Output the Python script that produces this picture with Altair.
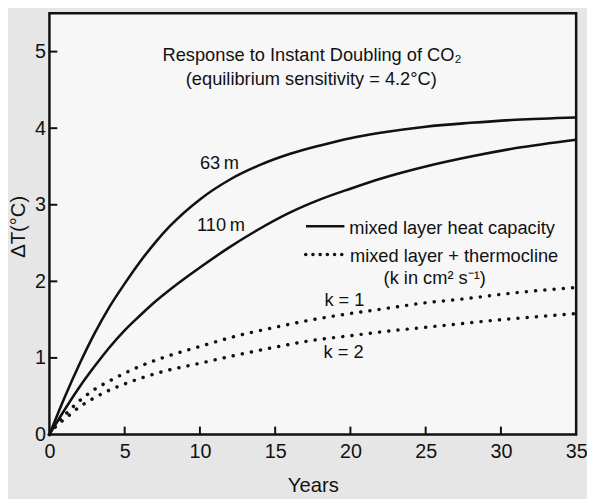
import altair as alt
import pandas as pd

# ---- data ----
years_mixed = [0, 1, 2, 3, 4, 5, 6, 7, 8, 10, 12, 14, 16, 18, 20, 22, 25, 28, 31, 35]
dT_63m = [0, 0.48, 0.92, 1.32, 1.67, 1.97, 2.25, 2.50, 2.72, 3.07, 3.33, 3.52, 3.665, 3.775, 3.87, 3.94, 4.02, 4.07, 4.11, 4.14]
dT_110m = [0, 0.32, 0.62, 0.89, 1.14, 1.36, 1.55, 1.73, 1.89, 2.18, 2.45, 2.69, 2.90, 3.07, 3.21, 3.34, 3.50, 3.63, 3.74, 3.85]

years_thermo = [0, 0.5, 1, 2, 3, 4, 5, 6, 7.5, 10, 12.5, 15, 17.5, 20, 22.5, 25, 27.5, 30, 32.5, 35]
dT_k1 = [0, 0.15, 0.25, 0.44, 0.59, 0.70, 0.80, 0.89, 1.00, 1.15, 1.29, 1.40, 1.50, 1.58, 1.65, 1.72, 1.77, 1.83, 1.88, 1.92]
dT_k2 = [0, 0.12, 0.20, 0.36, 0.48, 0.58, 0.66, 0.73, 0.82, 0.93, 1.04, 1.14, 1.23, 1.29, 1.35, 1.40, 1.45, 1.50, 1.54, 1.58]

x_ticks = [0, 5, 10, 15, 20, 25, 30, 35]
y_ticks = [0, 1, 2, 3, 4, 5]
x_inner_ticks = [5, 10, 15, 20, 25, 30]
y_inner_ticks = [1, 2, 3, 4, 5]

center_labels = ["Response to Instant Doubling of CO₂", "(equilibrium sensitivity = 4.2°C)",
                 "63\u2009m", "110\u2009m", "k = 1", "k = 2", "(k in cm² s⁻¹)"]
center_x = [17.45, 17.4, 11.3, 11.4, 19.6, 19.55, 25.6]
center_y = [4.96, 4.64, 3.54, 2.73, 1.76, 1.07, 2.04]

legend_labels = ["mixed layer heat capacity", "mixed layer + thermocline"]
legend_x = [19.92, 19.97]
legend_y = [2.70, 2.33]
legend_solid_x = [17.05, 19.6]
legend_solid_y = 2.72
legend_dot_x = [17.03, 19.55]
legend_dot_y = [2.35, 2.35]

W, H = 534, 427
FONT = "Liberation Sans"
INK = "#111111"
TXT = 18.5

xs = alt.Scale(domain=[0, 35], nice=False, zero=False)
ys = alt.Scale(domain=[0, 5.5], nice=False, zero=False)

solid = pd.DataFrame({
    "t": years_mixed * 2,
    "v": dT_63m + dT_110m,
    "s": ["63 m"] * len(years_mixed) + ["110 m"] * len(years_mixed),
})
dotted = pd.DataFrame({
    "t": years_thermo * 2,
    "v": dT_k1 + dT_k2,
    "s": ["k1"] * len(years_thermo) + ["k2"] * len(years_thermo),
})

xax = alt.Axis(values=x_ticks, ticks=False, domain=False, grid=False, labelPadding=7, format="d",
               labelFlush=False, labelOverlap=False, title="Years", titleY=52,
               titleAlign="center", titleBaseline="middle")
yax = alt.Axis(values=y_ticks, ticks=False, domain=False, grid=False, labelPadding=4, format="d",
               labelFlush=False, labelOverlap=False, title="ΔT(°C)", titleX=-31, titleY=216,
               titleAlign="center", titleBaseline="middle", titleAngle=270)

solid_lines = alt.Chart(solid).mark_line(color=INK, strokeWidth=2.6, interpolate="monotone").encode(
    x=alt.X("t:Q", scale=xs, axis=xax),
    y=alt.Y("v:Q", scale=ys, axis=yax),
    detail="s:N",
)

dotted_lines = alt.Chart(dotted).mark_line(
    color=INK, strokeWidth=3.5, strokeCap="round", strokeDash=[0.1, 9.3], interpolate="monotone"
).encode(
    x=alt.X("t:Q", scale=xs),
    y=alt.Y("v:Q", scale=ys),
    detail="s:N",
)

xt = alt.Chart(pd.DataFrame({"t": x_inner_ticks})).mark_rule(color=INK, strokeWidth=2).encode(
    x=alt.X("t:Q", scale=xs), y=alt.value(H), y2=alt.value(H - 8)
)
yt = alt.Chart(pd.DataFrame({"v": y_inner_ticks})).mark_rule(color=INK, strokeWidth=2).encode(
    y=alt.Y("v:Q", scale=ys), x=alt.value(0), x2=alt.value(8)
)

ctext = alt.Chart(pd.DataFrame({"x": center_x, "y": center_y, "label": center_labels})).mark_text(
    font=FONT, fontSize=TXT, color=INK, align="center", baseline="middle"
).encode(x=alt.X("x:Q", scale=xs), y=alt.Y("y:Q", scale=ys), text="label:N")

ltext = alt.Chart(pd.DataFrame({"x": legend_x, "y": legend_y, "label": legend_labels})).mark_text(
    font=FONT, fontSize=TXT, color=INK, align="left", baseline="middle"
).encode(x=alt.X("x:Q", scale=xs), y=alt.Y("y:Q", scale=ys), text="label:N")

lsolid = alt.Chart(pd.DataFrame({"x": [legend_solid_x[0]], "x2": [legend_solid_x[1]], "y": [legend_solid_y]})).mark_rule(
    color=INK, strokeWidth=2.6
).encode(x=alt.X("x:Q", scale=xs), x2="x2:Q", y=alt.Y("y:Q", scale=ys))

ldot = alt.Chart(pd.DataFrame({"x": legend_dot_x, "y": legend_dot_y})).mark_line(
    color=INK, strokeWidth=3.5, strokeCap="round", strokeDash=[0.1, 7.2]
).encode(x=alt.X("x:Q", scale=xs), y=alt.Y("y:Q", scale=ys))

chart = alt.layer(solid_lines, dotted_lines, xt, yt, ctext, ltext, lsolid, ldot).properties(
    width=W, height=H,
    autosize=alt.AutoSizeParams(type="none"),
    padding={"left": 42, "top": 2, "right": 11, "bottom": 62},
    background="#e6e6e6",
).configure_view(
    stroke=INK, strokeWidth=2.5, fill="#f7f7f7"
).configure_axis(
    labelFont=FONT, labelFontSize=20, labelColor=INK,
    titleFont=FONT, titleFontSize=20.5, titleColor=INK, titleFontWeight="normal",
)

chart.save("out.html", embed_options={"renderer": "svg", "actions": False})
